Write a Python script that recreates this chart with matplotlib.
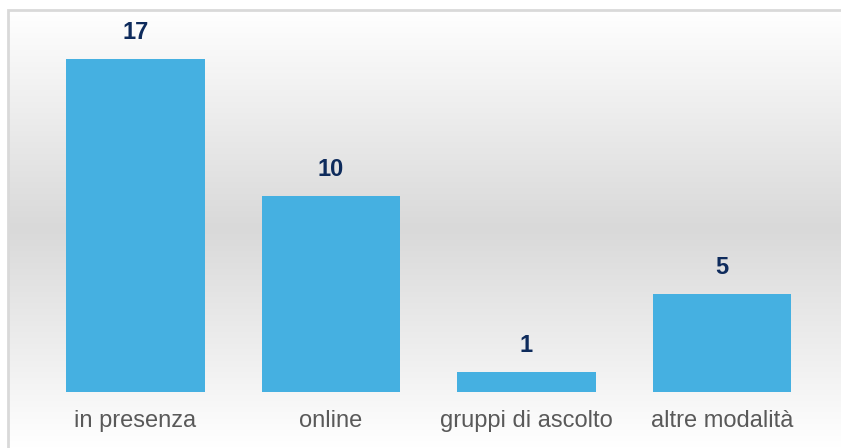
import numpy as np
import matplotlib.pyplot as plt
from matplotlib.colors import LinearSegmentedColormap
from matplotlib.patches import Rectangle

categorie = ["in presenza", "online", "gruppi di ascolto", "altre modalità"]
valori = [17, 10, 1, 5]

W, H = 841, 448
fig = plt.figure(figsize=(W / 100, H / 100), dpi=100)
fig.patch.set_facecolor("white")

# sfondo con sfumatura verticale e bordo
bg = fig.add_axes([8 / W, 0, 1 - 8 / W, 1 - 10 / H])
cmap = LinearSegmentedColormap.from_list("sf", [(0, "#ffffff"), (0.5, "#d9d9d9"), (1, "#ffffff")])
grad = np.linspace(0, 1, 256).reshape(-1, 1)
bg.imshow(grad, aspect="auto", cmap=cmap, extent=[0, 1, 0, 1], origin="upper")
bg.add_patch(Rectangle((0, -0.2), 1.2, 1.2, fill=False, edgecolor="#d9d9d9", lw=2,
                       transform=bg.transAxes, clip_on=False))
bg.set_xlim(0, 1)
bg.set_ylim(0, 1)
bg.axis("off")

# grafico a barre
step = 195.5
left = 135.5 - 0.6 * step
ax = fig.add_axes([left / W, 56 / H, 4.2 * step / W, 372.4 / H])
ax.patch.set_alpha(0)
x = np.arange(len(categorie))
barre = ax.bar(x, valori, width=0.71, color="#45B0E1")
ax.set_xlim(-0.6, 3.6)
ax.set_ylim(0, 19)
for b, v in zip(barre, valori):
    ax.annotate(str(v), (b.get_x() + b.get_width() / 2, v), xytext=(0, 11),
                textcoords="offset points", ha="center", va="bottom",
                fontsize=17, fontweight="bold", color="#0E2B5C",
                family="Liberation Sans")
ax.set_xticks(x)
ax.set_xticklabels(categorie, fontsize=17, color="#595959", family="Liberation Sans")
ax.tick_params(axis="x", length=0, pad=13)
ax.set_yticks([])
for s in ax.spines.values():
    s.set_visible(False)

fig.savefig("out.png", dpi=100)
